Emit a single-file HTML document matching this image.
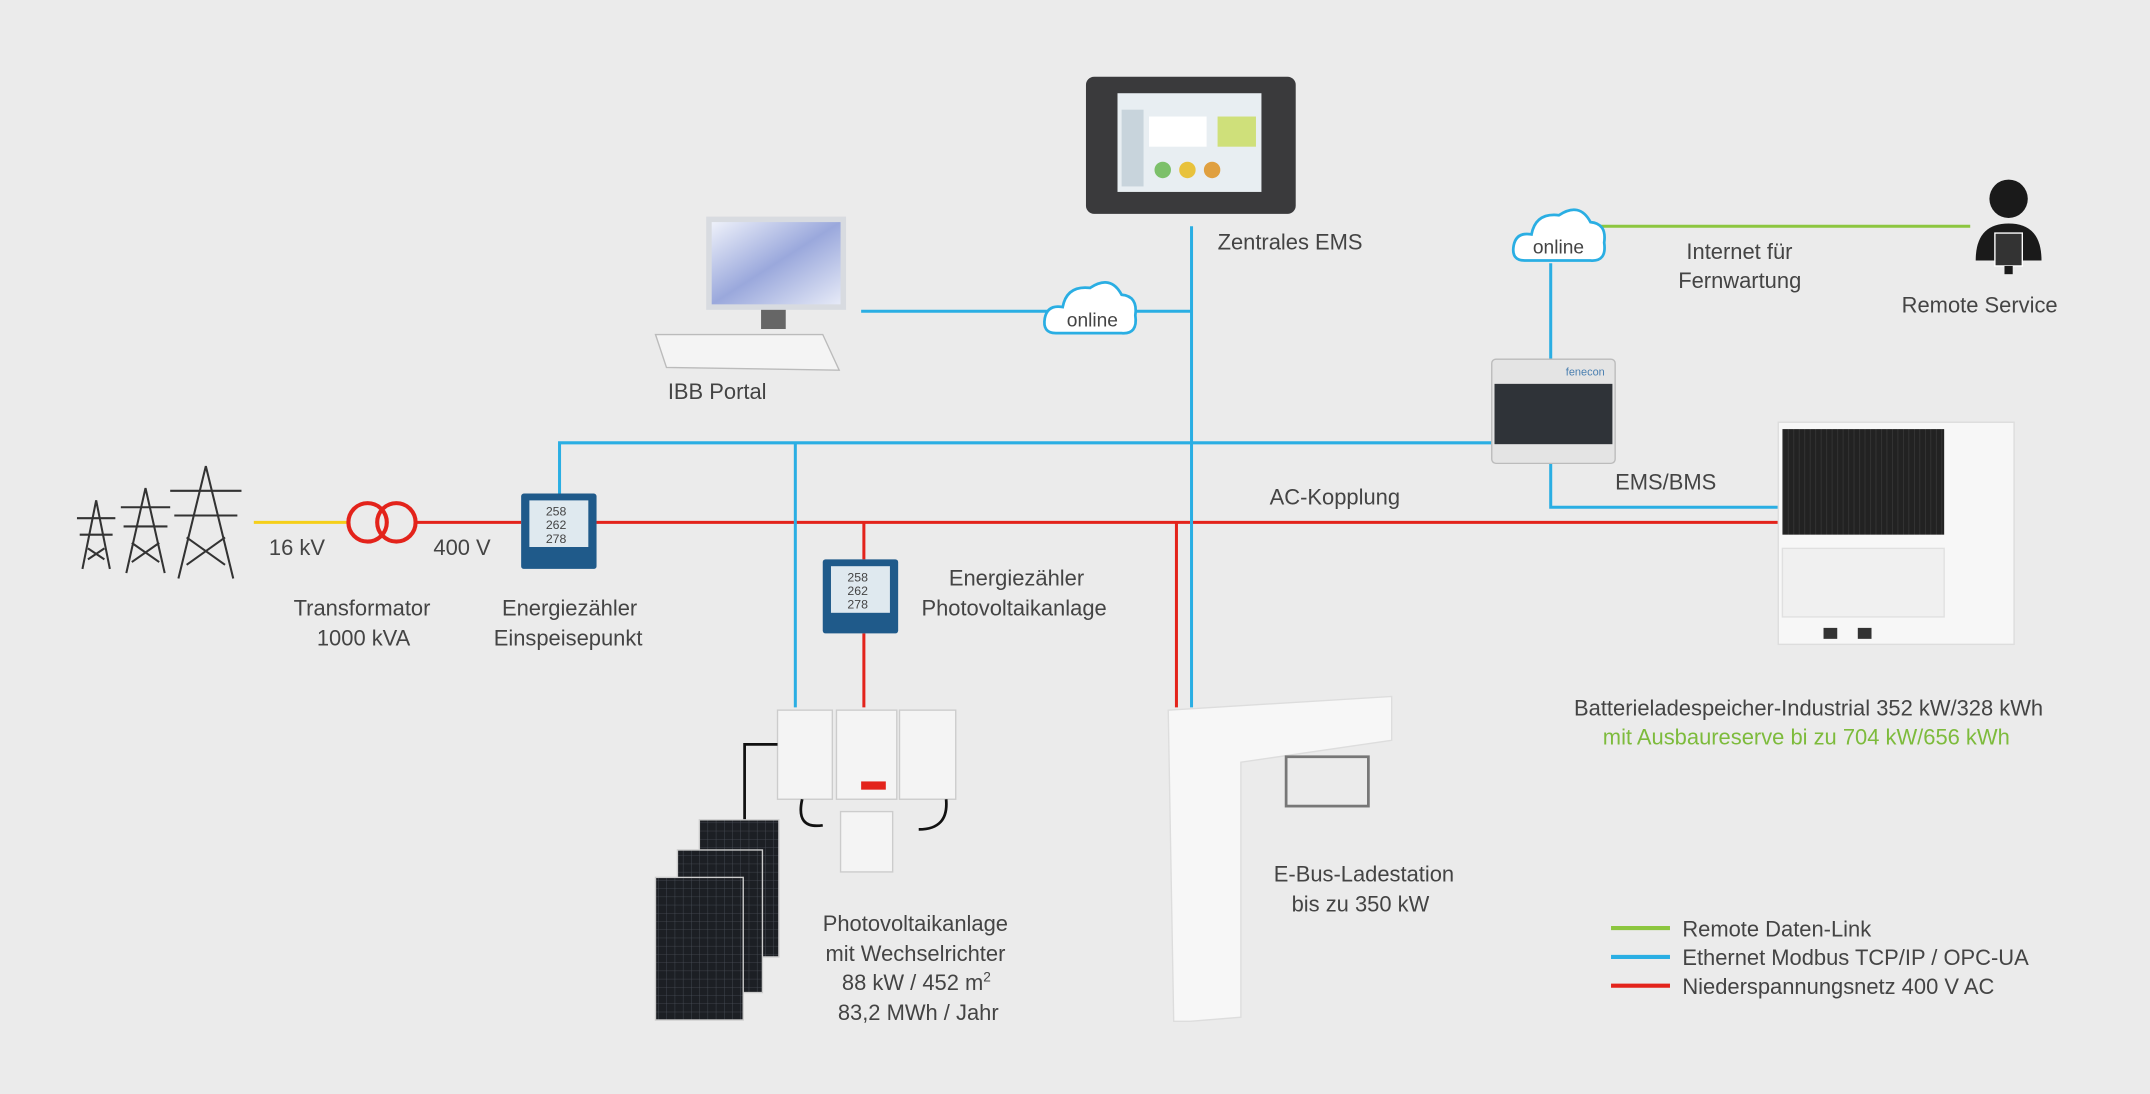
<!DOCTYPE html>
<html><head><meta charset="utf-8"><style>
html,body{margin:0;padding:0;background:#ebebeb;}
svg{display:block}
text{font-family:"Liberation Sans",sans-serif;font-size:16px;fill:#444;font-weight:300}
</style></head><body>
<svg width="2150" height="1094" viewBox="0 0 1568 798" xmlns="http://www.w3.org/2000/svg">
<defs>
<linearGradient id="scr" x1="0" y1="0" x2="1" y2="1"><stop offset="0" stop-color="#eef1fa"/><stop offset="0.5" stop-color="#9aa8dc"/><stop offset="1" stop-color="#e6eaf7"/></linearGradient>
<pattern id="cells" width="6" height="6" patternUnits="userSpaceOnUse"><rect width="6" height="6" fill="#1c1f24"/><path d="M0,0 H6 M0,0 V6" stroke="#4a4f58" stroke-width="0.6"/></pattern>
<pattern id="grill" width="4" height="77" patternUnits="userSpaceOnUse"><rect width="4" height="77" fill="#222"/><line x1="0" y1="0" x2="0" y2="77" stroke="#3a3a3a" stroke-width="1"/></pattern>
</defs>
<rect width="1568" height="798" fill="#ebebeb"/>
<g fill="none" stroke-width="2.2">
<line x1="185" y1="381" x2="255" y2="381" stroke="#f5cf1a"/>
<g stroke="#e3231b">
<line x1="303" y1="381" x2="380" y2="381"/>
<line x1="435" y1="381" x2="1298" y2="381"/>
<line x1="630" y1="381" x2="630" y2="408"/>
<line x1="630" y1="462" x2="630" y2="516"/>
<line x1="858" y1="381" x2="858" y2="516"/>
<circle cx="268" cy="381" r="14" stroke-width="3"/><circle cx="289" cy="381" r="14" stroke-width="3"/>
</g>
<g stroke="#2aaee3">
<polyline points="408,360 408,323 1088,323"/>
<line x1="580" y1="323" x2="580" y2="516"/>
<line x1="869" y1="165" x2="869" y2="516"/>
<line x1="628" y1="227" x2="768" y2="227"/>
<line x1="822" y1="227" x2="869" y2="227"/>
<line x1="1131" y1="192" x2="1131" y2="262"/>
<polyline points="1131,338 1131,370 1298,370"/>
</g>
<line x1="1165" y1="165" x2="1437" y2="165" stroke="#8cc63f"/>
<g stroke-width="3">
<line x1="1175" y1="677" x2="1218" y2="677" stroke="#8cc63f"/>
<line x1="1175" y1="698" x2="1218" y2="698" stroke="#2aaee3"/>
<line x1="1175" y1="719" x2="1218" y2="719" stroke="#e3231b"/>
</g>
</g>
<g stroke="#333" stroke-width="1.5" fill="none">
<path d="M60,415 L70,365 L80,415 M56,378 L84,378 M58,390 L82,390 M64,400 L76,408 M76,400 L64,408"/>
<path d="M92,418 L106,356 L120,418 M88,370 L124,370 M90,384 L122,384 M96,396 L116,410 M116,396 L96,410"/>
<path d="M130,422 L150,340 L170,422 M124,358 L176,358 M127,376 L173,376 M136,392 L164,412 M164,392 L136,412"/>
</g>
<g>
<rect x="380" y="360" width="55" height="55" rx="2" fill="#1f5a8a"/>
<rect x="386" y="365" width="43" height="34" fill="#dfe9ef"/>
<text x="398" y="376" style="font-size:9px">258</text><text x="398" y="386" style="font-size:9px">262</text><text x="398" y="396" style="font-size:9px">278</text>
<rect x="600" y="408" width="55" height="54" rx="2" fill="#1f5a8a"/>
<rect x="606" y="413" width="43" height="34" fill="#dfe9ef"/>
<text x="618" y="424" style="font-size:9px">258</text><text x="618" y="434" style="font-size:9px">262</text><text x="618" y="444" style="font-size:9px">278</text>
</g>
<rect x="792" y="56" width="153" height="100" rx="6" fill="#3a3a3c"/>
<rect x="815" y="68" width="105" height="72" fill="#e8eef2"/>
<rect x="818" y="80" width="16" height="56" fill="#c8d4dc"/>
<rect x="838" y="85" width="42" height="22" fill="#fff"/><rect x="888" y="85" width="28" height="22" fill="#cfe07a"/>
<circle cx="848" cy="124" r="6" fill="#7cc06a"/><circle cx="866" cy="124" r="6" fill="#e8c23c"/><circle cx="884" cy="124" r="6" fill="#e0a040"/>
<rect x="515" y="158" width="102" height="68" fill="#d8dbe0"/>
<rect x="519" y="162" width="94" height="60" fill="url(#scr)"/>
<rect x="555" y="226" width="18" height="14" fill="#666"/>
<path d="M478,244 L600,244 L612,270 L486,268 Z" fill="#f4f4f4" stroke="#bbb"/>
<g fill="#fff" stroke="#2aaee3" stroke-width="2">
<path d="M770,243 Q760,243 762,232 Q764,222 775,224 Q778,208 795,210 Q810,200 818,215 Q830,216 828,230 Q830,244 818,243 Z"/>
<path d="M1112,190 Q1102,190 1104,179 Q1106,169 1117,171 Q1120,155 1137,157 Q1152,147 1160,162 Q1172,163 1170,177 Q1172,191 1160,190 Z"/>
</g>
<text x="778" y="238" style="font-size:14px">online</text>
<text x="1118" y="185" style="font-size:14px">online</text>
<rect x="1088" y="262" width="90" height="76" rx="3" fill="#e4e4e4" stroke="#bbb"/>
<rect x="1090" y="280" width="86" height="44" fill="#2f3338"/>
<text x="1142" y="274" style="font-size:8px;fill:#4a7fb0">fenecon</text>
<circle cx="1465" cy="145" r="14" fill="#1a1a1a"/>
<path d="M1441,190 Q1441,163 1465,163 Q1489,163 1489,190 Z" fill="#1a1a1a"/>
<rect x="1455" y="170" width="20" height="24" fill="#333" stroke="#fff" stroke-width="1"/>
<rect x="1462" y="194" width="6" height="6" fill="#1a1a1a"/>
<rect x="1297" y="308" width="172" height="162" fill="#f7f7f7" stroke="#ddd"/>
<rect x="1300" y="313" width="118" height="77" fill="url(#grill)"/>
<rect x="1300" y="400" width="118" height="50" fill="#f0f0f0" stroke="#e0e0e0"/>
<rect x="1330" y="458" width="10" height="8" fill="#333"/><rect x="1355" y="458" width="10" height="8" fill="#333"/>
<rect x="567" y="518" width="40" height="65" fill="#f4f4f4" stroke="#ccc"/>
<rect x="610" y="518" width="44" height="65" fill="#f4f4f4" stroke="#ccc"/>
<rect x="656" y="518" width="41" height="65" fill="#f4f4f4" stroke="#ccc"/>
<rect x="628" y="570" width="18" height="6" fill="#e3231b"/>
<rect x="613" y="592" width="38" height="44" fill="#f4f4f4" stroke="#ccc"/>
<path d="M543,600 L543,543 L567,543" stroke="#111" stroke-width="2" fill="none"/>
<path d="M585,583 Q580,605 600,602 M690,583 Q692,605 670,605" stroke="#111" stroke-width="2" fill="none"/>
<g fill="url(#cells)" stroke="#ccc" stroke-width="1">
<rect x="510" y="598" width="58" height="100"/>
<rect x="494" y="620" width="62" height="104"/>
<rect x="478" y="640" width="64" height="104"/>
</g>
<path d="M852,518 L1015,508 L1015,540 L905,556 L905,742 L868,745 L856,745 Z" fill="#f7f7f7" stroke="#ddd"/>
<rect x="938" y="552" width="60" height="36" fill="none" stroke="#777" stroke-width="2"/>
<text x="888" y="182">Zentrales EMS</text>
<text x="487" y="291">IBB Portal</text>
<text x="1230" y="189">Internet für</text>
<text x="1224" y="210">Fernwartung</text>
<text x="1387" y="228">Remote Service</text>
<text x="1178" y="357">EMS/BMS</text>
<text x="926" y="368">AC-Kopplung</text>
<text x="196" y="405">16 kV</text>
<text x="316" y="405">400 V</text>
<text x="214" y="449">Transformator</text>
<text x="231" y="471">1000 kVA</text>
<text x="366" y="449">Energiezähler</text>
<text x="360" y="471">Einspeisepunkt</text>
<text x="692" y="427">Energiezähler</text>
<text x="672" y="449">Photovoltaikanlage</text>
<text x="1148" y="522">Batterieladespeicher-Industrial 352 kW/328 kWh</text>
<text x="1169" y="543" style="fill:#7dbb3c">mit Ausbaureserve bi zu 704 kW/656 kWh</text>
<text x="929" y="643">E-Bus-Ladestation</text>
<text x="942" y="665">bis zu 350 kW</text>
<text x="600" y="679">Photovoltaikanlage</text>
<text x="602" y="701">mit Wechselrichter</text>
<text x="614" y="722">88 kW / 452 m<tspan dy="-6" style="font-size:10px">2</tspan></text>
<text x="611" y="744">83,2 MWh / Jahr</text>
<text x="1227" y="683">Remote Daten-Link</text>
<text x="1227" y="704">Ethernet Modbus TCP/IP / OPC-UA</text>
<text x="1227" y="725">Niederspannungsnetz 400 V AC</text>
</svg>
</body></html>
